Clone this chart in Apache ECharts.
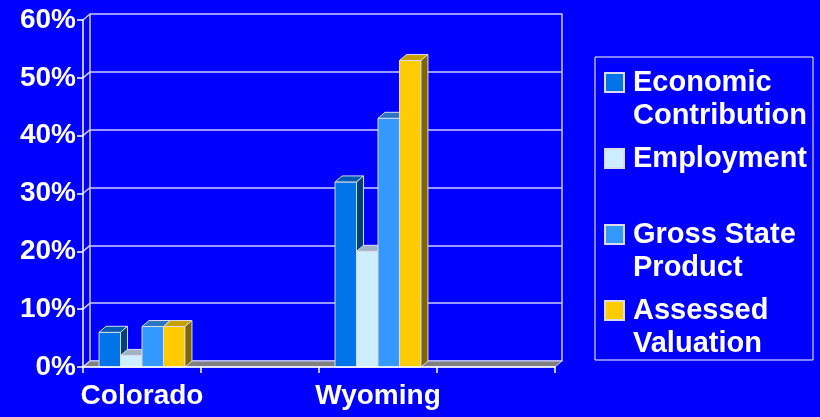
<!DOCTYPE html>
<html><head><meta charset="utf-8">
<script src="https://cdn.jsdelivr.net/npm/echarts@6/dist/echarts.min.js"></script>
<style>html,body{margin:0;padding:0;background:#0000FF;}#c{width:820px;height:417px;}</style>
</head><body><div id="c"></div>
<script>
// ---- data ----
const categories = ['Colorado', ' ', 'Wyoming', '  '];
const seriesNames = ['Economic Contribution', 'Employment', 'Gross State Product', 'Assessed Valuation'];
const legendLabels = [' \nEconomic\nContribution', ' \nEmployment\n ', ' \nGross State\nProduct', ' \nAssessed\nValuation'];
const economic = [6, null, 32, null];
const employment = [2, null, 20, null];
const grossState = [7, null, 43, null];
const assessed = [7, null, 53, null];
const yTicks = [0, 10, 20, 30, 40, 50, 60];

// ---- style ----
const DX = 7, DY = -6;
const BAR_FRAC = 0.182;
const FONT = 'Liberation Sans, Arial, sans-serif';
const GRID_COLOR = '#CCCCFF';
const palette = [
  { front: '#0074E8', top: '#005AB4', side: '#00407F' },
  { front: '#CCEEFF', top: '#A0B4C4', side: '#8FA3B3' },
  { front: '#3399FF', top: '#2A76C4', side: '#1F5C9E' },
  { front: '#FFCC00', top: '#C8A000', side: '#806600' }
];
const allValues = [economic, employment, grossState, assessed];

function toData(arr) {
  const out = [];
  arr.forEach(function (v, i) { if (v != null) out.push([i, v]); });
  return out;
}

function barRenderer(sIdx) {
  return function (params, api) {
    const v = api.value(1);
    if (v == null || isNaN(v)) return null;
    const cat = api.value(0);
    const top = api.coord([cat, v]);
    const base = api.coord([cat, 0]);
    const band = api.size([1, 0])[0];
    const w = band * BAR_FRAC;
    const x0 = top[0] + (sIdx - 2) * w;
    const x1 = x0 + w;
    const yT = top[1], yB = base[1];
    const c = palette[sIdx];
    const edge = { stroke: '#DCDCE8', lineWidth: 1 };
    return {
      type: 'group',
      children: [
        { type: 'polygon', shape: { points: [[x0, yT], [x1, yT], [x1, yB], [x0, yB]] },
          style: Object.assign({ fill: c.front }, edge) },
        { type: 'polygon', shape: { points: [[x0, yT], [x1, yT], [x1 + DX, yT + DY], [x0 + DX, yT + DY]] },
          style: Object.assign({ fill: c.top }, edge) },
        { type: 'polygon', shape: { points: [[x1, yT], [x1 + DX, yT + DY], [x1 + DX, yB + DY], [x1, yB]] },
          style: Object.assign({ fill: c.side }, edge) }
      ]
    };
  };
}

const barSeries = seriesNames.map(function (name, i) {
  return {
    name: name,
    type: 'custom',
    xAxisIndex: 0, yAxisIndex: 0,
    z: 3,
    itemStyle: { color: palette[i].front, borderColor: '#DCDCE8', borderWidth: 1 },
    encode: { x: 0, y: 1 },
    renderItem: barRenderer(i),
    data: toData(allValues[i])
  };
});

const floorSeries = {
  name: 'floor', type: 'custom', xAxisIndex: 0, yAxisIndex: 0, z: 1, silent: true,
  encode: { x: 0, y: 1 },
  data: [[0, 0]],
  renderItem: function (params, api) {
    const cs = params.coordSys;
    const y0 = api.coord([0, 0])[1];
    const xa = cs.x, xb = cs.x + cs.width;
    return {
      type: 'polygon',
      shape: { points: [[xa, y0], [xb, y0], [xb + DX, y0 + DY], [xa + DX, y0 + DY]] },
      style: { fill: '#808080', stroke: GRID_COLOR, lineWidth: 1 }
    };
  }
};

const connectorSeries = {
  name: 'connectors', type: 'custom', xAxisIndex: 0, yAxisIndex: 0, z: 2, silent: true,
  encode: { x: 0, y: 1 },
  data: yTicks.map(function (t) { return [0, t]; }),
  renderItem: function (params, api) {
    const cs = params.coordSys;
    const y = api.coord([0, api.value(1)])[1];
    return {
      type: 'line',
      shape: { x1: cs.x, y1: y, x2: cs.x + DX, y2: y + DY },
      style: { stroke: GRID_COLOR, lineWidth: 1.5 }
    };
  }
};

const chart = echarts.init(document.getElementById('c'));
chart.setOption({
  backgroundColor: '#0000FF',
  animation: false,
  grid: [
    { left: 83, right: 265, top: 20, bottom: 50, containLabel: false, outerBoundsMode: 'none' },
    { left: 90, right: 258, top: 14, bottom: 56, containLabel: false, outerBoundsMode: 'none' }
  ],
  xAxis: [
    { gridIndex: 0, type: 'category', data: categories, z: 10,
      axisLine: { show: true, lineStyle: { color: '#FFFFFF', width: 1.5 } },
      axisTick: { show: true, length: 6, lineStyle: { color: '#FFFFFF', width: 1.5 } },
      axisLabel: { color: '#FFFFFF', fontFamily: FONT, fontWeight: 'bold', fontSize: 28, margin: 15, interval: 0 },
      splitLine: { show: false } },
    { gridIndex: 1, type: 'category', data: categories, show: false }
  ],
  yAxis: [
    { gridIndex: 0, type: 'value', min: 0, max: 60, interval: 10, z: 10,
      axisLine: { show: true, lineStyle: { color: '#FFFFFF', width: 1.5 } },
      axisTick: { show: true, length: 6, lineStyle: { color: '#FFFFFF', width: 1.5 } },
      axisLabel: { color: '#FFFFFF', fontFamily: FONT, fontWeight: 'bold', fontSize: 28, margin: 7,
                   padding: [6, 0, 0, 0], formatter: '{value}%' },
      splitLine: { show: false } },
    { gridIndex: 1, type: 'value', min: 0, max: 60, interval: 10,
      axisLine: { show: true, lineStyle: { color: GRID_COLOR, width: 1.5 } },
      axisTick: { show: false }, axisLabel: { show: false },
      splitLine: { show: true, lineStyle: { color: GRID_COLOR, width: 1.5 } } },
    { gridIndex: 1, type: 'value', position: 'right', min: 0, max: 60, interval: 10,
      axisLine: { show: true, lineStyle: { color: GRID_COLOR, width: 1.5 } },
      axisTick: { show: false }, axisLabel: { show: false }, splitLine: { show: false } }
  ],
  legend: {
    orient: 'vertical', left: 595, top: 57,
    data: seriesNames, selectedMode: false,
    icon: 'rect', itemWidth: 19, itemHeight: 19, itemGap: -23,
    padding: [-24, 6, 0, 9],
    borderColor: '#FFFFFF', borderWidth: 1,
    textStyle: { color: '#FFFFFF', fontFamily: FONT, fontWeight: 'bold', fontSize: 29, lineHeight: 33,
                 padding: [0, 0, 0, 4] },
    formatter: function (name) { return legendLabels[seriesNames.indexOf(name)]; }
  },
  series: [floorSeries, connectorSeries].concat(barSeries)
});
</script></body></html>
